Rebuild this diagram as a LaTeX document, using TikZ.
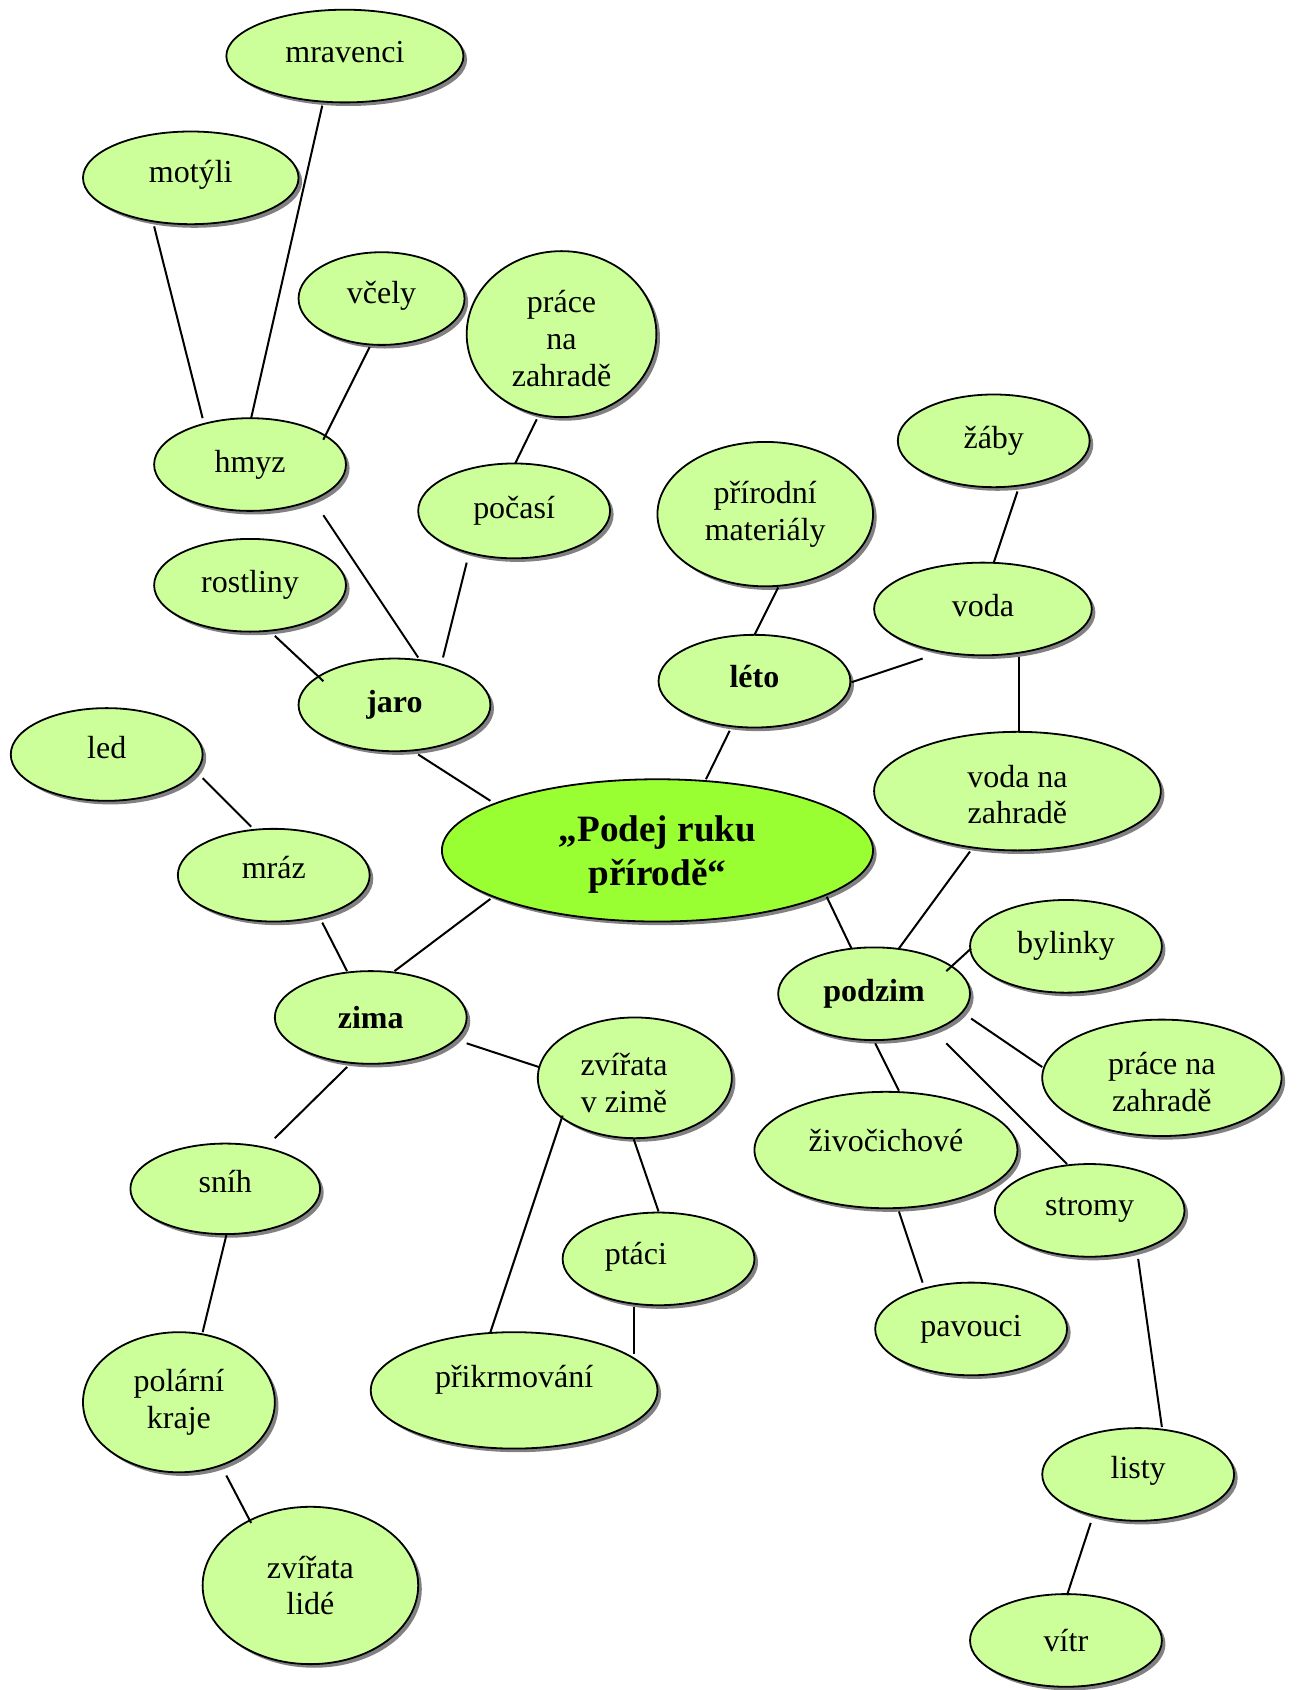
\documentclass[tikz,border=0pt]{standalone}
\usepackage{fontspec}
\setmainfont{Liberation Serif}
\usetikzlibrary{shapes.geometric,shadows}
\definecolor{lg}{HTML}{CCFF99}
\definecolor{cg}{HTML}{99FF33}
\begin{document}
\begin{tikzpicture}[x=0.539pt,y=-0.539pt,
  bub/.style n args={2}{ellipse, draw=black, line width=0.9pt, fill=lg, inner sep=0pt,
    minimum width=#1*1.078pt, minimum height=#2*1.078pt, align=center,
    font=\fontsize{16}{18.3}\selectfont,
    drop shadow={shadow xshift=1.8pt,shadow yshift=-1.8pt,fill=black!70,opacity=0.7}},
  hub/.style={bub={200}{66}, fill=cg},
  tx/.style={font=\fontsize{16}{18.3}\selectfont, align=center, inner sep=0pt},
  htx/.style={font=\fontsize{18.6}{22}\selectfont\bfseries, align=center, inner sep=0pt},
  link/.style={line width=1pt}]
\useasboundingbox (0,0) rectangle (1204,1568);
\node[bub={110}{43}, label={[tx,shift={(0,-4)}]center:mravenci}] (mravenci) at (320,52) {};
\node[bub={100}{43}, label={[tx,shift={(0,-3)}]center:motýli}] (motyli) at (177,165) {};
\node[bub={77}{43}, label={[tx,shift={(0,-3)}]center:včely}] (vcely) at (354,277) {};
\node[bub={88}{77}, label={[tx,shift={(0,4)}]center:{práce\\na\\zahradě}}] (prace1) at (521,310) {};
\node[bub={89}{43}] (hmyz) at (232,431) {hmyz};
\node[bub={89}{44}] (pocasi) at (477,474) {počasí};
\node[bub={100}{67}] (prirodni) at (710,477) {přírodní\\materiály};
\node[bub={89}{43}] (zaby) at (922,409) {žáby};
\node[bub={101}{43}, label={[tx,shift={(0,-3)}]center:voda}] (voda) at (912,565) {};
\node[bub={89}{43}] (rostliny) at (232,543) {rostliny};
\node[bub={89}{43}] (jaro) at (366,654) {\textbf{jaro}};
\node[bub={89}{43}, label={[tx,shift={(0,-4)}]center:\textbf{léto}}] (leto) at (700,632) {};
\node[bub={89}{43}, label={[tx,shift={(0,-6)}]center:led}] (led) at (99,700) {};
\node[bub={133}{55}, label={[tx,shift={(0,3)}]center:{voda na\\zahradě}}] (vodazahr) at (944,734) {};
\node[hub, label={[htx,shift={(0,4)}]center:{„Podej ruku\\přírodě“}}] (center) at (610,789) {};
\node[bub={89}{43}, label={[tx,shift={(0,-7)}]center:mráz}] (mraz) at (254,812) {};
\node[bub={89}{43}] (bylinky) at (989,878) {bylinky};
\node[bub={89}{43}] (podzim) at (811,922) {\textbf{podzim}};
\node[bub={89}{43}] (zima) at (344,944) {\textbf{zima}};
\node[bub={90}{56}, label={[tx,shift={(-10,5)}]center:{zvířata\\v zimě}}] (zvzime) at (589,1000) {};
\node[bub={111}{54}, label={[tx,shift={(0,4)}]center:{práce na\\zahradě}}] (prace2) at (1078,1000) {};
\node[bub={122}{54}, label={[tx,shift={(0,-9)}]center:živočichové}] (zivoc) at (822,1067) {};
\node[bub={88}{42}, label={[tx,shift={(0,-7)}]center:sníh}] (snih) at (209,1103) {};
\node[bub={88}{43}] (stromy) at (1011,1123) {stromy};
\node[bub={89}{43}, label={[tx,shift={(-21,-2)}]center:ptáci}] (ptaci) at (611,1168) {};
\node[bub={89}{43}] (pavouci) at (901,1233) {pavouci};
\node[bub={133}{54}, label={[tx,shift={(0,-10)}]center:přikrmování}] (prikrm) at (477,1290) {};
\node[bub={89}{65}] (polarni) at (166,1301) {polární\\kraje};
\node[bub={89}{43}, label={[tx,shift={(0,-3)}]center:listy}] (listy) at (1056,1368) {};
\node[bub={100}{73}] (zvlide) at (288,1471) {zvířata\\lidé};
\node[bub={89}{43}] (vitr) at (989,1522) {vítr};
% connectors
\draw[link] ([shift={(-34,45)}]motyli.center) -- ([shift={(-44,-43)}]hmyz.center);
\draw[link] ([shift={(-21,46)}]mravenci.center) -- ([shift={(1,-43)}]hmyz.center);
\draw[link] ([shift={(-11,45)}]vcely.center) -- ([shift={(68,-23)}]hmyz.center);
\draw[link] ([shift={(-23,79)}]prace1.center) -- ([shift={(1,-44)}]pocasi.center);
\draw[link] ([shift={(68,47)}]hmyz.center) -- ([shift={(22,-44)}]jaro.center);
\draw[link] ([shift={(-44,48)}]pocasi.center) -- ([shift={(45,-44)}]jaro.center);
\draw[link] ([shift={(23,47)}]rostliny.center) -- ([shift={(-66,-22)}]jaro.center);
\draw[link] ([shift={(22,46)}]jaro.center) -- ([shift={(-155,-46)}]center.center);
\draw[link] ([shift={(12,68)}]prirodni.center) -- ([shift={(0,-43)}]leto.center);
\draw[link] ([shift={(-23,46)}]leto.center) -- ([shift={(45,-66)}]center.center);
\draw[link] ([shift={(90,1)}]leto.center) -- ([shift={(-56,46)}]voda.center);
\draw[link] ([shift={(22,47)}]zaby.center) -- ([shift={(10,-43)}]voda.center);
\draw[link] ([shift={(33,45)}]voda.center) -- ([shift={(1,-55)}]vodazahr.center);
\draw[link] ([shift={(89,22)}]led.center) -- ([shift={(-21,-45)}]mraz.center);
\draw[link] ([shift={(45,44)}]mraz.center) -- ([shift={(-22,-43)}]zima.center);
\draw[link] ([shift={(-155,45)}]center.center) -- ([shift={(22,-43)}]zima.center);
\draw[link] ([shift={(157,43)}]center.center) -- ([shift={(-21,-42)}]podzim.center);
\draw[link] ([shift={(-44,56)}]vodazahr.center) -- ([shift={(23,-42)}]podzim.center);
\draw[link] ([shift={(-88,2)}]bylinky.center) -- ([shift={(67,-21)}]podzim.center);
\draw[link] ([shift={(90,23)}]podzim.center) -- ([shift={(-111,-10)}]prace2.center);
\draw[link] ([shift={(1,46)}]podzim.center) -- ([shift={(12,-55)}]zivoc.center);
\draw[link] ([shift={(67,46)}]podzim.center) -- ([shift={(-21,-43)}]stromy.center);
\draw[link] ([shift={(89,24)}]zima.center) -- ([shift={(-89,-10)}]zvzime.center);
\draw[link] ([shift={(-22,46)}]zima.center) -- ([shift={(46,-47)}]snih.center);
\draw[link] ([shift={(-1,57)}]zvzime.center) -- ([shift={(0,-44)}]ptaci.center);
\draw[link] ([shift={(-67,35)}]zvzime.center) -- ([shift={(-22,-54)}]prikrm.center);
\draw[link] ([shift={(-23,45)}]ptaci.center) -- ([shift={(111,-34)}]prikrm.center);
\draw[link] ([shift={(12,57)}]zivoc.center) -- ([shift={(-45,-43)}]pavouci.center);
\draw[link] ([shift={(45,45)}]stromy.center) -- ([shift={(22,-44)}]listy.center);
\draw[link] ([shift={(1,43)}]snih.center) -- ([shift={(22,-65)}]polarni.center);
\draw[link] ([shift={(44,68)}]polarni.center) -- ([shift={(-55,-58)}]zvlide.center);
\draw[link] ([shift={(-44,45)}]listy.center) -- ([shift={(1,-42)}]vitr.center);
\end{tikzpicture}
\end{document}
